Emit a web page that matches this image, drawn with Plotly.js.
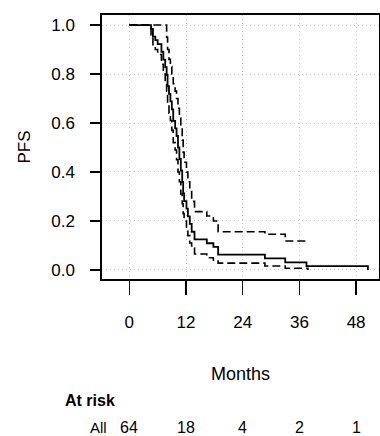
<!DOCTYPE html>
<html>
<head>
<meta charset="utf-8">
<script src="https://cdn.plot.ly/plotly-3.0.1.min.js"></script>
<style>html,body{margin:0;padding:0;background:#fff;}#chart{width:380px;height:436px;}</style>
</head>
<body>
<div id="chart"></div>
<script>
// Kaplan-Meier step curve (months, PFS)
const kmTime  = [0, 4.6, 5.0, 5.5, 6.0, 6.8, 7.2, 7.6, 7.9, 8.1, 8.4, 8.7, 9.0, 9.3, 9.7, 10.0, 10.3, 10.6, 10.9, 11.2, 11.4, 11.6, 12.1, 12.4, 12.8, 13.2, 13.8, 16.4, 17.8, 18.8, 28.7, 33.0, 37.5, 50.5, 50.5];
const kmSurv  = [1.0, 0.984, 0.953, 0.938, 0.922, 0.891, 0.859, 0.828, 0.797, 0.750, 0.719, 0.688, 0.656, 0.609, 0.578, 0.547, 0.500, 0.453, 0.406, 0.359, 0.313, 0.281, 0.250, 0.219, 0.188, 0.156, 0.125, 0.109, 0.094, 0.0625, 0.047, 0.031, 0.0156, 0.0156, 0.0];
// Confidence band (dashed)
const ciTime  = [0, 4.6, 5.0, 5.5, 6.0, 6.8, 7.2, 7.6, 7.9, 8.1, 8.4, 8.7, 9.0, 9.3, 9.7, 10.0, 10.3, 10.6, 10.9, 11.2, 11.4, 11.6, 12.1, 12.4, 12.8, 13.2, 13.8, 16.4, 17.8, 18.8, 28.7, 33.0, 37.8];
const ciUpper = [1.0, 1.0, 1.0, 1.0, 1.0, 1.0, 1.0, 1.0, 0.95, 0.90, 0.86, 0.83, 0.80, 0.76, 0.73, 0.70, 0.66, 0.62, 0.58, 0.53, 0.48, 0.44, 0.40, 0.36, 0.32, 0.28, 0.238, 0.22, 0.20, 0.156, 0.146, 0.118, 0.118];
const ciLower = [1.0, 0.96, 0.92, 0.90, 0.88, 0.84, 0.80, 0.77, 0.73, 0.68, 0.64, 0.61, 0.57, 0.52, 0.49, 0.45, 0.40, 0.36, 0.31, 0.27, 0.23, 0.20, 0.17, 0.14, 0.11, 0.09, 0.065, 0.05, 0.04, 0.028, 0.016, 0.007, 0.0];
// Numbers at risk
const riskTimes = [0, 12, 24, 36, 48];
const riskCounts = [64, 18, 4, 2, 1];
const xTicks = [0, 12, 24, 36, 48];
const yTicks = [0, 0.2, 0.4, 0.6, 0.8, 1.0];

const FONT = 'Liberation Sans, Arial, sans-serif';

const traces = [
  {x: ciTime, y: ciUpper, mode: 'lines', line: {shape: 'hv', color: '#000', width: 1.6, dash: '8px,4px'}, hoverinfo: 'skip'},
  {x: ciTime, y: ciLower, mode: 'lines', line: {shape: 'hv', color: '#000', width: 1.6, dash: '8px,4px'}, hoverinfo: 'skip'},
  {x: kmTime, y: kmSurv, mode: 'lines', line: {shape: 'hv', color: '#000', width: 1.8}, hoverinfo: 'skip'}
];

const annotations = [
  {text: '<b>At risk</b>', xref: 'paper', yref: 'paper', x: -0.142, y: -0.462, xanchor: 'left', yanchor: 'middle', showarrow: false, font: {family: FONT, size: 16, color: '#000'}},
  {text: 'All', xref: 'paper', yref: 'paper', x: 0.024, y: -0.564, xanchor: 'right', yanchor: 'middle', showarrow: false, font: {family: FONT, size: 15, color: '#000'}}
];
riskTimes.forEach((t, i) => {
  annotations.push({text: String(riskCounts[i]), xref: 'x', yref: 'paper', x: t, y: -0.564, xanchor: 'center', yanchor: 'middle', showarrow: false, font: {family: FONT, size: 16, color: '#000'}});
});

const layout = {
  width: 380, height: 436,
  margin: {l: 102, r: 1, t: 15, b: 157},
  paper_bgcolor: '#fff', plot_bgcolor: '#fff',
  showlegend: false,
  font: {family: FONT, size: 16, color: '#000'},
  xaxis: {
    range: [-5.78, 52.85], tickvals: xTicks, ticktext: xTicks.map(String),
    ticks: 'outside', ticklen: 14, tickwidth: 1.5, tickcolor: '#000',
    ticklabelstandoff: 13,
    showline: true, linecolor: '#000', linewidth: 1.6, mirror: true,
    showgrid: true, gridcolor: '#c8c8c8', griddash: '1px,3px', gridwidth: 1,
    zeroline: false,
    tickfont: {family: FONT, size: 17, color: '#000'},
    title: {text: 'Months', font: {family: FONT, size: 18, color: '#000'}, standoff: 36}
  },
  yaxis: {
    range: [-0.037, 1.041], tickvals: yTicks, tickformat: '.1f',
    ticks: 'outside', ticklen: 10, tickwidth: 1.5, tickcolor: '#000',
    ticklabelstandoff: 12,
    showline: true, linecolor: '#000', linewidth: 1.6, mirror: true,
    showgrid: true, gridcolor: '#c8c8c8', griddash: '1px,3px', gridwidth: 1,
    zeroline: false,
    tickfont: {family: FONT, size: 17, color: '#000'},
    title: {text: 'PFS', font: {family: FONT, size: 17, color: '#000'}, standoff: 16}
  },
  annotations: annotations
};

Plotly.newPlot('chart', traces, layout, {displayModeBar: false, staticPlot: true});
</script>
</body>
</html>
